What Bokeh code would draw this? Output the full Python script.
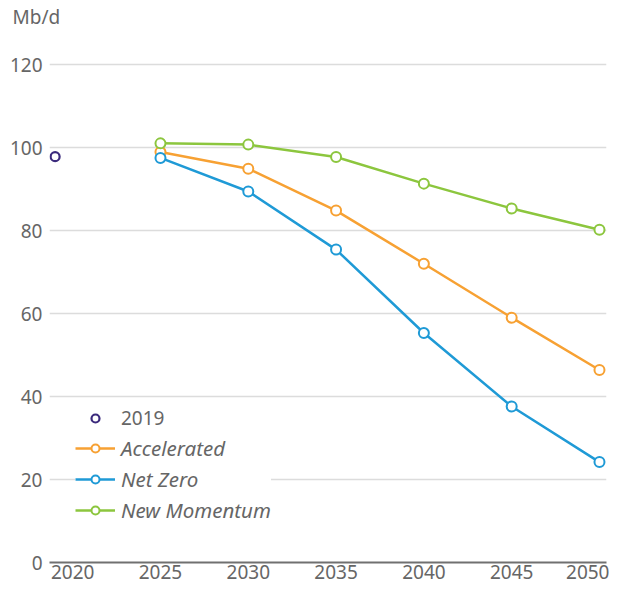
from bokeh.plotting import figure
from bokeh.models import Legend, LegendItem, FixedTicker, Range1d
from bokeh.embed import file_html
from bokeh.resources import INLINE

years = [2025, 2030, 2035, 2040, 2045, 2050]
year_2019 = [2019]
value_2019 = [97.8]
accelerated = [98.9, 94.9, 84.8, 72.0, 59.0, 46.4]
net_zero = [97.5, 89.4, 75.4, 55.3, 37.6, 24.2]
new_momentum = [101.0, 100.7, 97.7, 91.3, 85.3, 80.2]
x_ticks = [2020, 2025, 2030, 2035, 2040, 2045, 2050]
y_ticks = [0, 20, 40, 60, 80, 100, 120]

FONT = "Noto Sans"
FS = "19px"
GREY = "#666666"
C_ACC = "#f7a133"
C_NZ = "#1f9ad6"
C_NM = "#8cc63e"
C_2019 = "#3b2a7c"

p = figure(width=609, height=590, output_backend="svg", toolbar_location=None,
           x_range=Range1d(2018.68, 2050.4), y_range=Range1d(0, 128.2),
           min_border_left=49, min_border_right=3, min_border_top=30, min_border_bottom=28,
           title="Mb/d")
p.title.text_font = FONT
p.title.text_font_size = FS
p.title.text_font_style = "normal"
p.title.text_color = GREY
p.title.align = "left"
p.title.offset = -37
p.title.standoff = 2
p.outline_line_color = None
p.xgrid.grid_line_color = None
p.ygrid.grid_line_color = "#dcdcdc"
p.ygrid.grid_line_width = 1.5
p.ygrid.ticker = FixedTicker(ticks=y_ticks)

for ax in (p.xaxis, p.yaxis):
    ax.major_tick_line_color = None
    ax.minor_tick_line_color = None
    ax.major_tick_out = 0
    ax.major_tick_in = 0
    ax.minor_tick_out = 0
    ax.major_label_text_font = FONT
    ax.major_label_text_font_size = FS
    ax.major_label_text_color = GREY

p.xaxis.ticker = FixedTicker(ticks=x_ticks)
p.xaxis.axis_line_color = "#707070"
p.xaxis.axis_line_width = 2
p.xaxis.major_label_standoff = 2

p.yaxis.ticker = FixedTicker(ticks=y_ticks)
p.yaxis.axis_line_color = None
p.yaxis.major_label_standoff = 7

series = [(accelerated, C_ACC, "Accelerated"),
          (net_zero, C_NZ, "Net Zero"),
          (new_momentum, C_NM, "New Momentum")]
items = []
for vals, col, name in series:
    ln = p.line(years, vals, line_color=col, line_width=2.5)
    sc = p.scatter(years, vals, size=10, marker="circle", fill_color="white",
                   line_color=col, line_width=2)
    items.append(LegendItem(label=name, renderers=[ln, sc]))

s19 = p.scatter(year_2019, value_2019, size=9, marker="circle", fill_color="white",
                line_color=C_2019, line_width=2.2)

leg1 = Legend(items=[LegendItem(label="2019", renderers=[s19])], location=(26, 131),
              orientation="vertical")
leg2 = Legend(items=items, location=(26, 38), orientation="vertical")
for lg, style, fs, lh, sp in ((leg1, "normal", FS, 26, 5), (leg2, "italic", "20.5px", 28, 3)):
    lg.label_text_font = FONT
    lg.label_text_font_size = fs
    lg.label_text_font_style = style
    lg.label_text_color = GREY
    lg.glyph_width = 40
    lg.glyph_height = 20
    lg.label_height = lh
    lg.spacing = sp
    lg.padding = 7
    lg.margin = 0
    lg.label_standoff = 6
    lg.border_line_color = None
    lg.background_fill_color = "white"
    lg.background_fill_alpha = 1
    p.add_layout(lg, "center")

open("out.html", "w").write(file_html(p, INLINE))
